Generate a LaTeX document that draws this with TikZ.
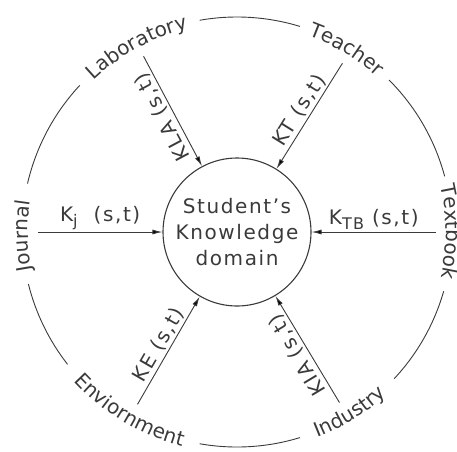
\documentclass[tikz,border=0pt]{standalone}
\usepackage{fontspec}
\setmainfont[LetterSpace=8]{DejaVu Sans}
\usetikzlibrary{arrows.meta,decorations.text}
\definecolor{ink}{HTML}{3A3A3A}
\newcommand\lblfont{\fontsize{20}{26}\selectfont}
\newcommand\lowr[1]{\raisebox{-5pt}{\fontsize{16}{16}\selectfont #1}}
\tikzset{
  ring/.style={draw=ink,line width=.9pt},
  arr/.style={draw=ink,line width=.9pt,-{Latex[length=10pt,width=5pt]}},
  klbl/.style={text=ink,font=\lblfont,inner sep=2pt,anchor=south},
  ringtxt/.style={decorate,decoration={text along path,text align=center,text color=ink,text={#1}}}
}

\begin{document}
\begin{tikzpicture}[x=1pt,y=1pt]
  \useasboundingbox (-237,-219) rectangle (220,232);
  % outer ring, broken where the sources are written
  \foreach \s/\e in {137/167,194/218,260/287,317/344,15/45,73/100}{\draw[ring] (\s:215) arc[start angle=\s,end angle=\e,radius=215];}
  \path[ringtxt={|\lblfont|Laboratory}] (143.5:209) arc[start angle=143.5,end angle=93.5,radius=209];
  \path[ringtxt={|\lblfont|Teacher}] (84:209) arc[start angle=84,end angle=34,radius=209];
  \path[ringtxt={|\lblfont|Textbook}] (25:209) arc[start angle=25,end angle=-25,radius=209];
  \path[ringtxt={|\lblfont|Industry}] (-83:221) arc[start angle=-83,end angle=-33,radius=221];
  \path[ringtxt={|\lblfont|Enviornment}] (-146:221) arc[start angle=-146,end angle=-96,radius=221];
  \path[ringtxt={|\lblfont|Journal}] (206:209) arc[start angle=206,end angle=156,radius=209];
  % centre
  \node[circle,draw=ink,line width=1.1pt,minimum size=148pt,inner sep=0pt,align=center,text=ink,font=\lblfont] (skd) at (0,0) {Student's\\Knowledge\\domain};
  \coordinate (lab) at (118:199);
  \coordinate (tea) at (58:199);
  \coordinate (txb) at (0:199);
  \coordinate (ind) at (301:199);
  \coordinate (env) at (240:199);
  \coordinate (jou) at (180:199);
  \draw[arr] (lab) -- node[klbl,rotate=118]{KLA (s,t)} (skd);
  \draw[arr] (tea) -- node[klbl,rotate=58]{KT (s,t)} (skd);
  \draw[arr] (txb) -- node[klbl]{K\lowr{TB} (s,t)} (skd);
  \draw[arr] (ind) -- node[klbl,rotate=121]{KIA (s,t)} (skd);
  \draw[arr] (env) -- node[klbl,rotate=60]{KE (s,t)} (skd);
  \draw[arr] (jou) -- node[klbl]{K\lowr{j}\hspace{16pt}(s,t)} (skd);
\end{tikzpicture}
\end{document}
